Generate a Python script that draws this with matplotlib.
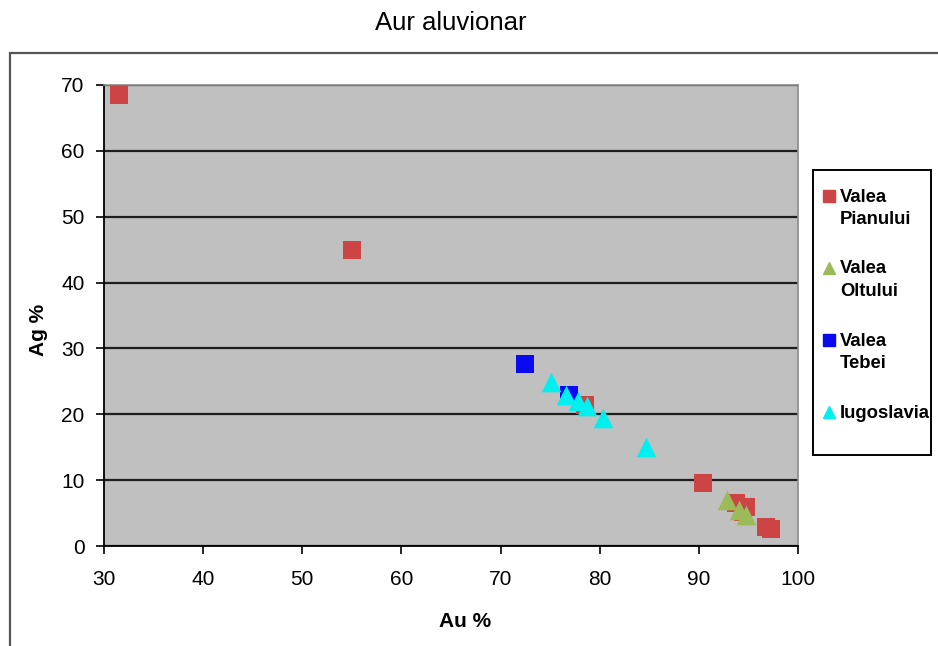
import matplotlib
matplotlib.use("Agg")
import matplotlib.pyplot as plt
from matplotlib.lines import Line2D
from matplotlib.patches import Rectangle

plt.rcParams['font.family'] = ['Liberation Sans', 'DejaVu Sans']

# Au / Ag composition of alluvial gold samples
pianului_au = [31.5, 55.0, 78.5, 90.4, 93.7, 94.8, 94.5, 96.8, 97.3]
pianului_ag = [68.5, 45.0, 21.4, 9.5, 6.6, 5.9, 5.2, 2.9, 2.6]

oltului_au = [92.8, 94.0, 94.8]
oltului_ag = [7.0, 5.5, 4.7]

tebei_au = [72.5, 76.9]
tebei_ag = [27.6, 23.0]

iugoslavia_au = [75.1, 76.6, 77.8, 78.7, 80.3, 84.7]
iugoslavia_ag = [24.9, 23.0, 22.0, 21.2, 19.5, 15.1]

series_labels = [['Valea', 'Pianului'], ['Valea', 'Oltului'], ['Valea', 'Tebei'], ['Iugoslavia']]

x_ticks = [30, 40, 50, 60, 70, 80, 90, 100]
y_ticks = [0, 10, 20, 30, 40, 50, 60, 70]

W, H = 938, 646
fig = plt.figure(figsize=(W / 100, H / 100), dpi=100)


def fx(px):
    return px / W


def fy(py):
    return 1 - py / H


# outer chart frame
frame = Rectangle((fx(10), -0.05), 1.0, fy(53) + 0.05, transform=fig.transFigure,
                  facecolor='none', edgecolor='#555555', linewidth=1.6, clip_on=False)
fig.patches.append(frame)

ax = fig.add_axes([fx(104), fy(546), (798 - 104) / W, (546 - 85) / H])
ax.set_facecolor('#c0c0c0')
ax.set_xlim(30, 100)
ax.set_ylim(0, 70)
ax.set_xticks(x_ticks)
ax.set_yticks(y_ticks)
ax.grid(axis='y', color='#1e1e1e', linewidth=1.6, zorder=1)
ax.set_axisbelow(True)

for side in ('left', 'bottom'):
    ax.spines[side].set_color('black')
    ax.spines[side].set_linewidth(1.3)
for side in ('right', 'top'):
    ax.spines[side].set_color('#8c8c8c')
    ax.spines[side].set_linewidth(1.2)

ax.tick_params(axis='both', direction='out', length=6, width=1.2, labelsize=15, pad=11)
ax.tick_params(axis='y', pad=8)

red = '#cc4444'
green = '#9bbb59'
blue = '#0a0af0'
cyan = '#00f0f0'
colors = [red, green, blue, cyan]
markers = ['s', '^', 's', '^']

ax.scatter(pianului_au, pianului_ag, marker='s', s=150, color=red, zorder=3, linewidths=0)
ax.scatter(oltului_au, oltului_ag, marker='^', s=200, color=green, zorder=4, linewidths=0)
ax.scatter(tebei_au, tebei_ag, marker='s', s=150, color=blue, zorder=3, linewidths=0)
ax.scatter(iugoslavia_au, iugoslavia_ag, marker='^', s=200, color=cyan, zorder=4, linewidths=0)

ax.set_xlabel('Au %', fontsize=15, fontweight='bold')
ax.set_ylabel('Ag %', fontsize=15, fontweight='bold')
ax.xaxis.set_label_coords(0.52, -66 / 461)
ax.yaxis.set_label_coords(-56 / 694, 0.469)

fig.text(fx(451), fy(23), 'Aur aluvionar', ha='center', va='center', fontsize=18.5)

# legend box with one entry per series
leg_frame = Rectangle((fx(813), fy(455)), (931 - 813) / W, (455 - 170) / H,
                      transform=fig.transFigure, facecolor='white',
                      edgecolor='black', linewidth=1.4)
fig.patches.append(leg_frame)
for i, (lines, col, mk) in enumerate(zip(series_labels, colors, markers)):
    first = 197 + 72 * i
    fig.add_artist(Line2D([fx(829)], [fy(first - 1)], transform=fig.transFigure,
                          marker=mk, color=col, markersize=8 if mk == 's' else 9,
                          linestyle='none'))
    for j, line in enumerate(lines):
        fig.text(fx(840), fy(first + 23 * j), line, ha='left', va='center',
                 fontsize=13.3, fontweight='bold')

fig.savefig('out.png', dpi=100)
